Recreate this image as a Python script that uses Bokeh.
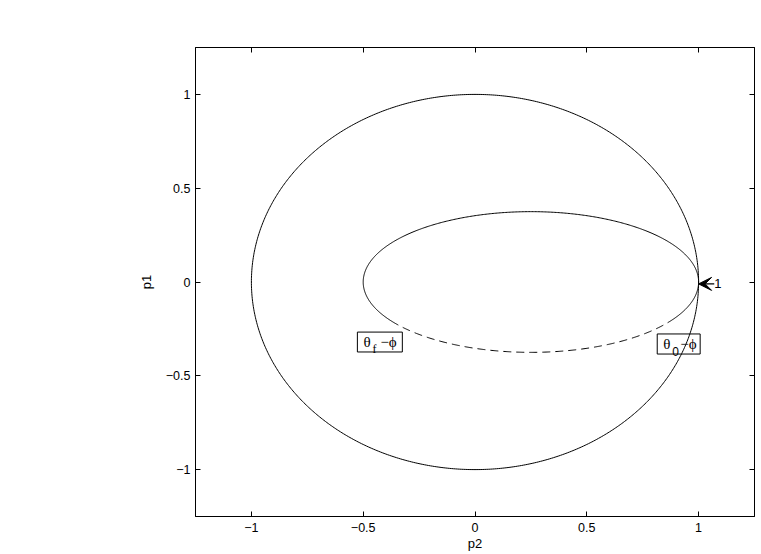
import numpy as np
from bokeh.plotting import figure
from bokeh.models import (LinearAxis, FixedTicker, Arrow, VeeHead, Label,
                          BoxAnnotation, CustomJSTickFormatter)
from bokeh.embed import file_html
from bokeh.resources import INLINE

# ---- data ----
x_ticks = [-1, -0.5, 0, 0.5, 1]
y_ticks = [-1, -0.5, 0, 0.5, 1]
tick_labels = {-1: "\u22121", -0.5: "\u22120.5", 0: "0", 0.5: "0.5", 1: "1"}

# outer unit circle
outer_center = [0.0, 0.0]
outer_radius = [1.0, 1.0]
# inner ellipse: centre, semi-axes
inner_center = [0.25, 0.0]
inner_semi = [0.75, 0.375]
# parameter angles (rad) where the dashed part starts / ends (lower half)
dash_start_t = 3.73
dash_end_t = 5.71

# annotation label texts
label_main = ["\u03b8", "\u03b8"]
label_sub = ["f", "0"]
label_tail = ["\u2212\u03d5", "\u2212\u03d5"]
label_boxes = [(-0.526, -0.325, -0.373, -0.267), (0.815, 1.007, -0.384, -0.277)]

t_all = np.linspace(0, 2 * np.pi, 721)
ox = outer_center[0] + outer_radius[0] * np.cos(t_all)
oy = outer_center[1] + outer_radius[1] * np.sin(t_all)

t_solid = np.linspace(dash_end_t, dash_start_t + 2 * np.pi, 500)
sx = inner_center[0] + inner_semi[0] * np.cos(t_solid)
sy = inner_center[1] + inner_semi[1] * np.sin(t_solid)

t_dash = np.linspace(dash_start_t, dash_end_t, 300)
dx = inner_center[0] + inner_semi[0] * np.cos(t_dash)
dy = inner_center[1] + inner_semi[1] * np.sin(t_dash)

p = figure(frame_width=559, frame_height=469,
           x_range=(-1.25, 1.25), y_range=(-1.25, 1.25),
           output_backend="svg", toolbar_location=None,
           min_border_left=195, min_border_top=47, min_border_right=2,
           min_border_bottom=20, background_fill_color="white",
           border_fill_color="white")
p.grid.visible = False
p.outline_line_color = "black"
p.outline_line_width = 1

FONT = "Liberation Sans"
SERIF = "Liberation Serif"

for ax, ticks in ((p.xaxis[0], x_ticks), (p.yaxis[0], y_ticks)):
    ax.ticker = FixedTicker(ticks=ticks)
    ax.major_label_overrides = tick_labels
    ax.major_tick_in = 5
    ax.major_tick_out = 0
    ax.minor_tick_in = 0
    ax.minor_tick_out = 0
    ax.axis_line_color = "black"
    ax.major_tick_line_color = "black"
    ax.major_label_text_font = FONT
    ax.major_label_text_font_size = "12.5px"
    ax.major_label_text_color = "black"
    ax.axis_label_text_font = FONT
    ax.axis_label_text_font_size = "13px"
    ax.axis_label_text_font_style = "normal"
    ax.axis_label_text_color = "black"

p.xaxis[0].axis_label = "p2"
p.yaxis[0].axis_label = "p1"
p.xaxis[0].major_label_standoff = 6
p.xaxis[0].axis_label_standoff = 1
p.yaxis[0].major_label_standoff = 5
p.yaxis[0].axis_label_standoff = 9

for loc, ticks in (("above", x_ticks), ("right", y_ticks)):
    ax = LinearAxis(ticker=FixedTicker(ticks=ticks),
                    formatter=CustomJSTickFormatter(code="return ''"))
    ax.major_tick_in = 5
    ax.major_tick_out = 0
    ax.minor_tick_in = 0
    ax.minor_tick_out = 0
    ax.major_label_standoff = 0
    ax.axis_line_color = "black"
    p.add_layout(ax, loc)

p.line(ox, oy, line_color="black", line_width=1)
p.line(sx, sy, line_color="black", line_width=1)
p.line(dx, dy, line_color="black", line_width=1, line_dash="8 5")

# arrow pointing at (1, 0)
arrow_tip = (outer_center[0] + outer_radius[0], 0.0)
p.add_layout(Arrow(x_start=arrow_tip[0] + 0.07, y_start=arrow_tip[1] - 0.01,
                   x_end=arrow_tip[0], y_end=arrow_tip[1] - 0.01,
                   line_color="black", line_width=1.2,
                   end=VeeHead(size=13, fill_color="black", line_color="black")))
p.add_layout(Label(x=arrow_tip[0] + 0.07, y=arrow_tip[1] - 0.01, text="1",
                   text_font=FONT, text_font_size="13px", text_color="black",
                   text_baseline="middle", text_align="left", x_offset=0))

# boxed labels
for (l, r, b, t), m, s, tail in zip(label_boxes, label_main, label_sub, label_tail):
    p.add_layout(BoxAnnotation(left=l, right=r, bottom=b, top=t,
                               fill_alpha=0, line_color="black", line_alpha=1,
                               line_width=1, level="overlay"))
    yc = (b + t) / 2
    p.add_layout(Label(x=l, y=yc, text=m, text_font=SERIF, text_font_size="15px",
                       text_baseline="middle", text_align="left", x_offset=6,
                       text_color="black"))
    p.add_layout(Label(x=l, y=yc, text=s, text_font=SERIF if s == "f" else FONT,
                       text_font_size="12px",
                       text_baseline="middle", text_align="left", x_offset=15,
                       y_offset=-7, text_color="black"))
    p.add_layout(Label(x=l, y=yc, text=tail, text_font=SERIF, text_font_size="15px",
                       text_baseline="middle", text_align="left", x_offset=23,
                       text_color="black"))

open("out.html", "w").write(file_html(p, INLINE))
